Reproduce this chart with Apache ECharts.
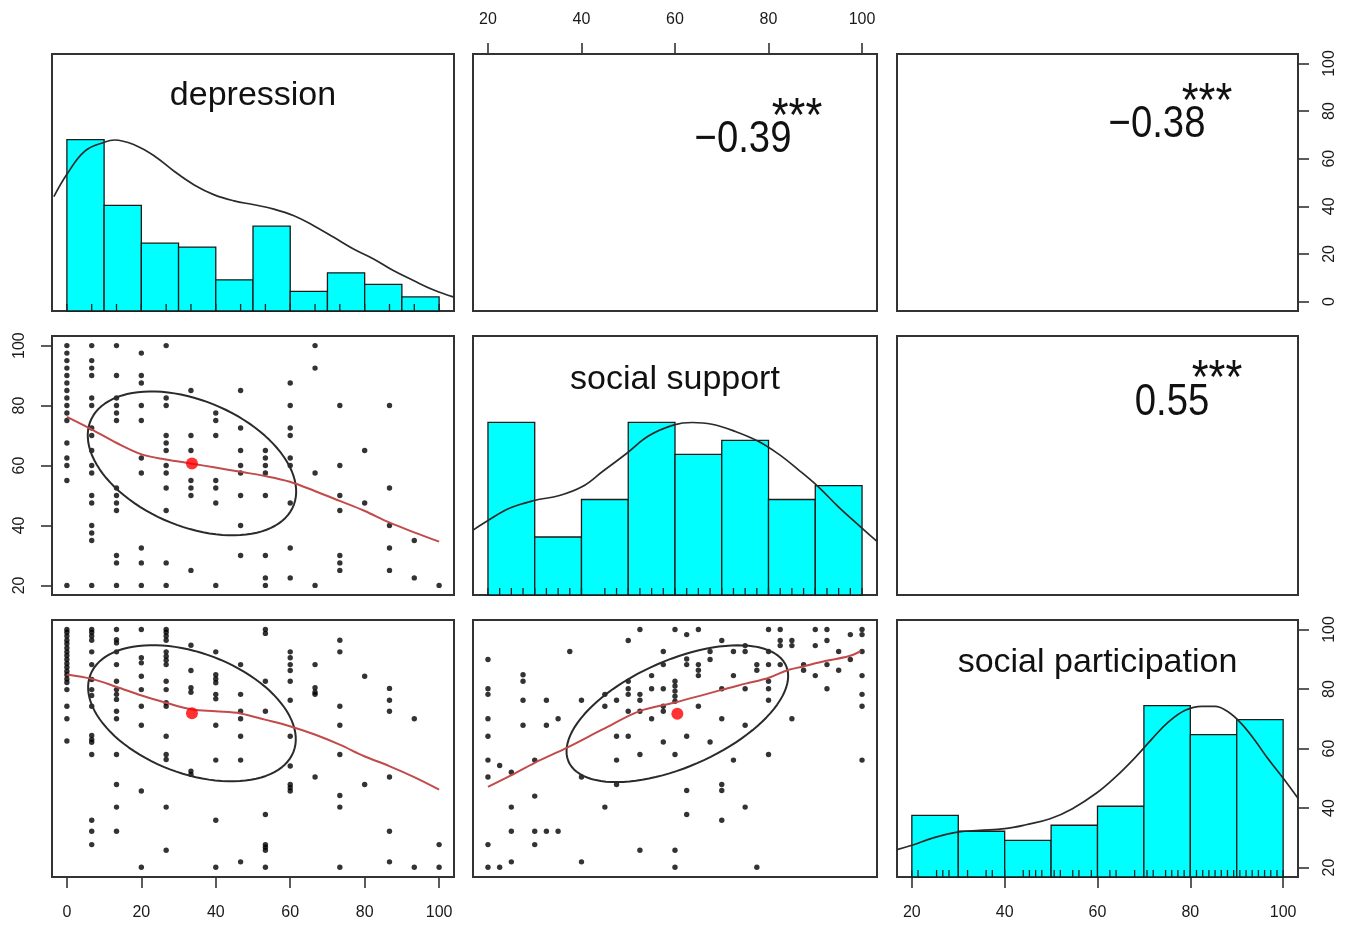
<!DOCTYPE html>
<html><head><meta charset="utf-8">
<script src="https://cdn.jsdelivr.net/npm/echarts@6/dist/echarts.min.js"></script>
<style>html,body{margin:0;padding:0;background:#fff}#c{width:1349px;height:926px}</style>
</head><body><div id="c"></div>
<script>
// ---------------- DATA ----------------
const varNames = ['depression', 'social support', 'social participation'];
const corrValues = [-0.39, -0.38, 0.55];          // dep~sup, dep~par, sup~par
const corrStars = ['***', '***', '***'];

const depTicks = [0, 20, 40, 60, 80, 100];
const supTicks = [20, 40, 60, 80, 100];
const parTicks = [20, 40, 60, 80, 100];

// histogram bins and bar heights (relative to tallest bar)
const depBins = [0, 10, 20, 30, 40, 50, 60, 70, 80, 90, 100];
const depHist = [1, 0.616, 0.396, 0.373, 0.182, 0.495, 0.115, 0.223, 0.155, 0.082];
const supBins = [20, 30, 40, 50, 60, 70, 80, 90, 100];
const supHist = [1, 0.336, 0.553, 1, 0.814, 0.895, 0.553, 0.634];
const parBins = [20, 30, 40, 50, 60, 70, 80, 90, 100];
const parHist = [0.360, 0.267, 0.214, 0.302, 0.413, 1, 0.831, 0.918];

// density curves (relative to max)
const depDensity = [[-3.5,0.667],[0,0.798],[4.9,0.934],[10.2,0.986],[12.8,0.998],[18.2,0.969],[23.5,0.905],[28.9,0.814],[34.2,0.736],[39.6,0.678],[44.9,0.643],[50.3,0.620],[55.6,0.595],[61,0.556],[66.3,0.498],[71.7,0.430],[77,0.362],[82.4,0.304],[87.7,0.236],[93.1,0.178],[98.4,0.124],[104,0.081]];
const supDensity = [[16.9,0.377],[20,0.431],[24.6,0.502],[29.9,0.547],[35.3,0.576],[40.2,0.628],[44.5,0.715],[49.7,0.821],[54.4,0.922],[59.8,0.985],[63.7,0.999],[67.9,0.989],[72.9,0.947],[77.9,0.889],[82.1,0.817],[86.4,0.725],[90.6,0.628],[94.9,0.512],[99.2,0.406],[103.2,0.31]];
const parDensity = [[16.8,0.160],[20,0.185],[24.6,0.228],[30.1,0.263],[34.6,0.272],[40,0.282],[44.6,0.305],[49.8,0.340],[54.6,0.399],[59.8,0.490],[63.9,0.584],[68.2,0.700],[71.8,0.808],[75.3,0.905],[78.9,0.973],[82.5,0.996],[85.3,0.996],[88.2,0.963],[91,0.895],[93.9,0.798],[96.7,0.691],[100.1,0.574],[103.2,0.46]];

// depression levels (x of the scatter columns)
const depLevels = [0, 6.67, 13.33, 20, 26.67, 33.33, 40, 46.67, 53.33, 60, 66.67, 73.33, 80, 86.67, 93.33, 100];

// social support values per depression level
const supByDep = [
  [100,97.5,95,92.5,90,87.5,85,82.5,80,77.5,75,67.5,62.5,60,55,20],
  [100,95,92.5,90,82.5,80,72.5,70,65,60,57.5,50,47.5,40,37.5,35,20],
  [100,90,82.5,80,77.5,75,52.5,50,47.5,45,30,27.5,20],
  [97.5,90,87.5,80,75,62.5,57.5,32.5,27.5,20],
  [100,82.5,80,70,67.5,65,60,57.5,52.5,45,27.5,20],
  [85,70,65,55,52.5,50,25],
  [77.5,75,70,55,52.5,47.5,20],
  [85,72.5,65,60,57.5,50,40,30],
  [65,62.5,60,57.5,50,30,22.5,20],
  [87.5,80,72.5,70,62.5,60,47.5,32.5,22.5],
  [100,92.5,57.5,20],
  [80,60,50,45,30,27.5,25],
  [65,47.5],
  [80,52.5,40,32.5,25],
  [35,22.5],
  [20]
];

// social participation values per depression level
const parByDep = [
  [100,99.1,97.8,96.4,95.2,93.8,92.5,91.3,89.9,88.6,87.3,86.0,84.8,83.4,82.2,79.8,74.2,70.0,62.5],
  [100,99.1,97.8,96.4,92.5,88.2,83.2,79.8,77.8,74.2,64.4,63.0,62.1,58.0,35.9,32.2,27.7],
  [100,96.6,95.5,92.5,88.2,82.6,79.8,78.2,76.5,72.5,70.0,58.0,47.9,40.3,32.2],
  [100,90.5,88.8,84.3,79.8,74.2,67.8,45.7,20.1],
  [100,99.1,97.8,96.4,92.5,91.0,89.7,88.2,82.6,79.8,75.4,74.2,64.1,58.0,56.3,40.3,25.8],
  [94.7,86.2,80.4,78.9,52.4,51.3],
  [92.5,84.8,83.4,82.1,78.2,76.7,67.8,56.1,35.9,20.1],
  [88.2,78.2,72.5,70.0,64.1,56.1,21.9],
  [100,98.7,82.6,72.5,37.8,27.7,26.8,25.8,20.1],
  [92.5,90.5,88.2,86.2,82.6,76.2,64.1,54.1,47.9,46.8,45.7],
  [88.2,80.4,78.9,78.2,50.4],
  [96.4,92.5,74.2,67.8,58.0,44.2,40.3,20.1],
  [84.3,47.9],
  [80.2,76.2,72.5,50.4,32.2,21.9],
  [70.0,20.1],
  [27.7,20.1]
];

// social support (x) vs social participation (y)
const supParPts = [
  [52.5,100],[60,100],[65,100],[62.5,98.3],[50,96.3],[37.5,92.6],[57.5,92.6],[70,96.3],[80,100],[82.5,100],
  [82.5,96.3],[82.5,94.6],[85,96.3],[85,94.6],[90,100],[92.5,100],[92.5,96.3],[97.5,98.3],[100,100],[100,98.3],
  [90,94.6],[95,92.6],[97.5,89.9],[92.5,88.2],[95,86.3],[87.5,88.2],[87.5,86.3],[90,84.5],[92.5,80.1],[100,92.6],
  [100,84.5],[100,78.2],[100,74.2],[100,56.1],[20,89.9],[27.5,84.8],[27.5,82.6],[20,80.1],[20,78.2],[27.5,76.2],
  [32.5,76.2],[40,76.2],[35,70.0],[20,70.0],[27.5,67.8],[32.5,67.8],[20,64.1],[20,56.1],[22.5,54.3],[25,52.0],
  [30,56.1],[20,50.4],[40,50.4],[47.5,47.9],[30,44.0],[25,40.3],[45,40.3],[25,32.2],[30,32.2],[32.5,32.2],
  [35,32.2],[20,27.7],[30,27.7],[20,20.1],[22.5,20.1],[25,21.9],[40,21.9],[52.5,25.8],[60,25.8],[60,20.1],
  [77.5,20.1],[45,78.2],[45,74.2],[47.5,76.2],[50,82.6],[50,80.1],[50,78.2],[50,72.5],[52.5,78.2],[52.5,76.2],
  [52.5,72.5],[55,84.5],[55,80.1],[55,70.0],[57.5,88.2],[57.5,80.1],[57.5,74.2],[57.5,72.5],[60,82.6],[60,81.0],
  [60,79.3],[60,77.6],[60,75.9],[62.5,90.1],[62.5,88.2],[65,88.2],[65,86.3],[65,84.5],[65,74.2],[67.5,92.6],
  [67.5,89.9],[70,80.1],[72.5,92.6],[72.5,84.5],[75,94.6],[75,92.6],[75,80.1],[77.5,88.2],[77.5,86.3],[80,92.6],
  [80,88.2],[80,82.6],[80,80.1],[80,76.2],[82.5,88.2],[85,70.0],[70,70.0],[75,67.8],[47.5,64.1],[50,64.1],
  [57.5,62.2],[62.5,64.1],[67.5,62.2],[60,58.0],[52.5,58.0],[47.5,56.1],[72.5,56.1],[80,58.0],[62.5,45.9],[70,47.9],
  [70,45.9],[75,40.3],[62.5,37.8],[70,35.9]
];

// loess smoothers
const depSupSmooth = [[0,76.2],[6.7,72.0],[13.4,67.5],[20.1,63.7],[26.6,62.0],[33.7,60.6],[39.9,59.3],[46.6,57.9],[53.2,56.5],[59.9,54.6],[66.6,51.5],[73.3,48.2],[79.9,44.9],[86.6,41.0],[93.3,37.7],[100,34.6]];
const depParSmooth = [[0,84.9],[6.7,83.4],[13.4,80.7],[20.1,77.8],[26.6,75.4],[33.7,73.1],[39.9,72.5],[46.6,71.8],[53.2,69.7],[59.9,67.5],[66.6,64.7],[73.3,61.3],[79.9,57.4],[86.6,54.1],[93.3,50.4],[100,46.2]];
const supParSmooth = [[20,47.1],[24.6,50.7],[30,55.2],[36.8,60.2],[44.5,66.4],[52.3,72.5],[59.8,75.4],[65.1,77.6],[70.1,79.8],[75.1,81.8],[80.1,83.8],[84,86.3],[87.2,87.5],[92.1,89.4],[97.1,91.0],[99.7,92.7]];

// means and standard deviations: [meanX, meanY, sdX, sdY]
const depSupMoments = [33.6, 60.7, 28.0, 24.0];
const depParMoments = [33.6, 71.85, 27.9, 22.9];
const supParMoments = [60.5, 71.7, 23.7, 23.0];

// ---------------- BUILD ----------------
const FONT = 'Liberation Sans, Arial, sans-serif';
const COL_LEFT = [52, 473, 897], COL_W = [402, 404, 401];
const ROW_TOP = [54, 336, 620], ROW_H = [257, 259, 257];
const varRange = [[-4, 104], [16.8, 103.2], [16.8, 103.2]];
const varTicks = [depTicks, supTicks, parTicks];
const HIST_Y = [0, 1.5];
const PAR_STEP = 4 / 3;   // participation scale step used for the rug

function pairsFrom(levels, byLevel) {
  const out = [];
  levels.forEach((x, k) => byLevel[k].forEach(y => out.push([x, y])));
  return out;
}
const depSupPts = pairsFrom(depLevels, supByDep);
const depParPts = pairsFrom(depLevels, parByDep);

function uniq(arr) { return Array.from(new Set(arr)).sort((a, b) => a - b); }
const depRug = uniq(depLevels);
const supRug = uniq(depSupPts.map(p => p[1]).concat(supParPts.map(p => p[0])));
const parRug = uniq(depParPts.map(p => p[1]).concat(supParPts.map(p => p[1]))
  .map(v => +(Math.round(v / PAR_STEP) * PAR_STEP).toFixed(2)));

function axisCfg(gi, range, ticks, show, position, isY, margin) {
  return {
    gridIndex: gi, type: 'value', min: range[0], max: range[1], position: position,
    axisLine: { show: false, onZero: false },
    splitLine: { show: false },
    axisTick: { show: show, length: 11, customValues: ticks, lineStyle: { color: '#333', width: 1.6 } },
    axisLabel: { show: show, customValues: ticks, fontSize: 16, color: '#1a1a1a', fontFamily: FONT,
      rotate: isY ? 90 : 0, margin: margin }
  };
}

const grids = [], xAxes = [], yAxes = [];
for (let r = 0; r < 3; r++) {
  for (let c = 0; c < 3; c++) {
    const i = r * 3 + c;
    grids.push({ left: COL_LEFT[c], top: ROW_TOP[r], width: COL_W[c], height: ROW_H[r],
      show: true, borderColor: '#333', borderWidth: 2, backgroundColor: 'transparent' });
    const xShow = (i === 1 || i === 6 || i === 8);
    xAxes.push(axisCfg(i, varRange[c], varTicks[c], xShow, i === 1 ? 'top' : 'bottom', false, i === 1 ? 26 : 28));
    const yr = r === c ? HIST_Y : varRange[r];
    const yShow = (i === 2 || i === 3);
    yAxes.push(axisCfg(i, yr, varTicks[r], yShow, i === 3 ? 'left' : 'right', true, 24));
  }
}
yAxes.push(axisCfg(8, varRange[2], varTicks[2], true, 'right', true, 24)); // index 9

const series = [];
function histSeries(gi, bins, heights) {
  return {
    type: 'custom', xAxisIndex: gi, yAxisIndex: gi, silent: true, z: 2,
    data: heights.map((h, k) => [bins[k], bins[k + 1], h]),
    encode: { x: [0, 1], y: 2 },
    renderItem: (params, api) => {
      const p0 = api.coord([api.value(0), 0]);
      const p1 = api.coord([api.value(1), api.value(2)]);
      return { type: 'rect', shape: { x: p0[0], y: p1[1], width: p1[0] - p0[0], height: p0[1] - p1[1] },
        style: { fill: '#00FFFF', stroke: '#1a1a1a', lineWidth: 1.3 } };
    }
  };
}
function rugSeries(gi, vals) {
  return {
    type: 'custom', xAxisIndex: gi, yAxisIndex: gi, silent: true, z: 3,
    data: vals.map(v => [v, 0]), encode: { x: 0, y: 1 },
    renderItem: (params, api) => {
      const p = api.coord([api.value(0), 0]);
      return { type: 'line', shape: { x1: p[0], y1: p[1], x2: p[0], y2: p[1] - 7 },
        style: { stroke: '#222', lineWidth: 1.3 } };
    }
  };
}
function lineSeries(gi, data, color, width, smooth, z, yIdx) {
  return { type: 'line', xAxisIndex: gi, yAxisIndex: yIdx === undefined ? gi : yIdx, data: data,
    smooth: smooth, showSymbol: false, symbol: 'none', clip: true, silent: true, z: z,
    lineStyle: { color: color, width: width } };
}
function scatterSeries(gi, data) {
  return { type: 'scatter', xAxisIndex: gi, yAxisIndex: gi, data: data, symbolSize: 5.4, silent: true, z: 3,
    itemStyle: { color: '#000' } };
}
function ellipsePoints(m, r) {
  const [mx, my, sx, sy] = m;
  const th = (r >= 0 ? 1 : -1) / Math.sqrt(2);
  const a = Math.sqrt(1 + r), b = Math.sqrt(1 - r);
  const pts = [];
  for (let k = 0; k <= 100; k++) {
    const t = k * 2 * Math.PI / 100;
    const u = Math.cos(t), v = Math.sin(t);
    pts.push([mx + sx * (a * th * u - b * th * v), my + sy * (a * th * u + b * th * v)]);
  }
  return pts;
}
function panelSmoother(gi, pts, smooth, m, r) {
  series.push(scatterSeries(gi, pts));
  series.push(lineSeries(gi, ellipsePoints(m, r), '#2a2a2a', 2, false, 4));
  series.push(lineSeries(gi, smooth, '#c24a4a', 2, 0.35, 5));
  series.push({ type: 'scatter', xAxisIndex: gi, yAxisIndex: gi, data: [[m[0], m[1]]], symbolSize: 12,
    silent: true, z: 6, itemStyle: { color: '#ff0000' } });
}

// diagonal
series.push(histSeries(0, depBins, depHist), rugSeries(0, depRug), lineSeries(0, depDensity, '#2a2a2a', 1.7, 0.4, 4));
series.push(histSeries(4, supBins, supHist), rugSeries(4, supRug), lineSeries(4, supDensity, '#2a2a2a', 1.7, 0.4, 4));
series.push(histSeries(8, parBins, parHist), rugSeries(8, parRug), lineSeries(8, parDensity, '#2a2a2a', 1.7, 0.4, 4));
// lower panels
panelSmoother(3, depSupPts, depSupSmooth, depSupMoments, corrValues[0]);
panelSmoother(6, depParPts, depParSmooth, depParMoments, corrValues[1]);
panelSmoother(7, supParPts, supParSmooth, supParMoments, corrValues[2]);

// text elements
const graphic = [];
const titleY = [96 - 54, 380 - 336, 663 - 620];
for (let k = 0; k < 3; k++) {
  graphic.push({ type: 'text', x: COL_LEFT[k] + COL_W[k] / 2, y: ROW_TOP[k] + titleY[k], silent: true,
    style: { text: varNames[k], fontSize: 34, fontFamily: FONT, fill: '#111', align: 'center', verticalAlign: 'middle' } });
}
function fmtR(v) { return (v < 0 ? '\u2212' : '') + Math.abs(v).toFixed(2); }
// [row, col, numDx, numDy, starDx, starDy]
const corrPos = [[0, 1, 270, 86, 324, 64], [0, 2, 260, 71, 310, 49], [1, 2, 275, 67, 320, 44]];
corrPos.forEach((p, k) => {
  const gx = COL_LEFT[p[1]], gy = ROW_TOP[p[0]];
  graphic.push({ type: 'text', x: gx + p[2], y: gy + p[3], scaleX: 0.87, silent: true,
    style: { text: fmtR(corrValues[k]), fontSize: 44, fontFamily: FONT, fill: '#111', align: 'center', verticalAlign: 'middle' } });
  graphic.push({ type: 'text', x: gx + p[4], y: gy + p[5], scaleX: 0.9, silent: true,
    style: { text: corrStars[k], fontSize: 48, fontFamily: FONT, fill: '#111', align: 'center', verticalAlign: 'middle' } });
});

const chart = echarts.init(document.getElementById('c'), null, { renderer: 'canvas' });
chart.setOption({
  animation: false,
  backgroundColor: '#fff',
  grid: grids, xAxis: xAxes, yAxis: yAxes,
  series: series,
  graphic: graphic
});
</script></body></html>
